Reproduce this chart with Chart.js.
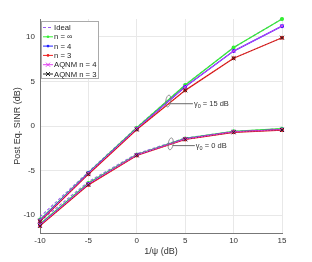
<!DOCTYPE html>
<html>
<head>
<meta charset="utf-8">
<script src="https://cdn.jsdelivr.net/npm/chart.js@4.4.0/dist/chart.umd.min.js"></script>
<style>
  html, body { margin: 0; padding: 0; background: #fff; }
  #wrap { width: 312px; height: 262px; }
</style>
</head>
<body>
<div id="wrap"><canvas id="Grafica" width="312" height="262"></canvas></div>
<script>
// 1/psi en dB
const xVals = [-10, -5, 0, 5, 10, 15];
const yTicks = [-10, -5, 0, 5, 10];

// gamma0 = 15 dB
const ideal15 = [-10.2, -5.15, -0.15, 4.6, 8.8, 12.0];
const inf15   = [-10.5, -5.25, -0.2, 4.6, 8.8, 12.0];
const n4_15   = [-10.6, -5.3, -0.3, 4.4, 8.4, 11.2];
const n3_15   = [-10.7, -5.4, -0.4, 4.0, 7.6, 9.9];
const aq4_15  = [-10.6, -5.3, -0.3, 4.4, 8.4, 11.2];
const aq3_15  = [-10.7, -5.4, -0.4, 4.0, 7.6, 9.9];

// gamma0 = 0 dB
const ideal0 = [-10.7, -6.25, -3.1, -1.35, -0.6, -0.3];
const inf0   = [-11.0, -6.4, -3.2, -1.4, -0.6, -0.3];
const n4_0   = [-11.1, -6.5, -3.25, -1.45, -0.65, -0.4];
const n3_0   = [-11.2, -6.6, -3.3, -1.5, -0.7, -0.45];
const aq4_0  = [-11.1, -6.5, -3.25, -1.45, -0.65, -0.4];
const aq3_0  = [-11.2, -6.6, -3.3, -1.5, -0.7, -0.45];

function serie(a, b) {
    const pts = xVals.map((x, i) => ({x: x, y: a[i]}));
    pts.push({x: 15.5, y: null});
    return pts.concat(xVals.map((x, i) => ({x: x, y: b[i]})));
}

const fuente = "'Liberation Sans', Arial, sans-serif";

const datasets = [
    {label: 'Ideal', data: serie(ideal15, ideal0), borderColor: '#9a5cf0', borderDash: [3, 2], borderWidth: 1.1, pointRadius: 0},
    {label: 'n = \u221e', data: serie(inf15, inf0), borderColor: '#33ee33', backgroundColor: '#33ee33', borderWidth: 1.3, pointRadius: 1.4, pointStyle: 'circle'},
    {label: 'n = 4', data: serie(n4_15, n4_0), borderColor: '#2020ff', backgroundColor: '#2020ff', borderWidth: 1.2, pointRadius: 1.4, pointStyle: 'circle'},
    {label: 'n = 3', data: serie(n3_15, n3_0), borderColor: '#ee2020', backgroundColor: '#ee2020', borderWidth: 1.3, pointRadius: 1.4, pointStyle: 'circle'},
    {label: 'AQNM n = 4', data: serie(aq4_15, aq4_0), borderColor: '#e040f0', backgroundColor: '#e040f0', borderWidth: 0.9, pointRadius: 2.8, pointStyle: 'crossRot', pointBorderWidth: 1},
    {label: 'AQNM n = 3', data: serie(aq3_15, aq3_0), borderColor: '#222', backgroundColor: '#222', borderWidth: 0.5, borderDash: [1, 2], pointRadius: 2.8, pointStyle: 'crossRot', pointBorderWidth: 1}
];
// las series posteriores quedan encima, como en el original
datasets.forEach((d, i) => { d.fill = false; d.tension = 0; d.clip = false; d.spanGaps = false; d.order = datasets.length - i; });

// leyenda y anotaciones dibujadas a mano
const extras = {
    id: 'extras',
    afterDatasetsDraw(chart) {
        const ctx = chart.ctx;
        const sx = chart.scales.x, sy = chart.scales.y;
        ctx.save();
        // anotaciones
        const notas = [
            {x: 3.25, y: 2.8, tx: 5.9, ty: 2.5, t: ' = 15 dB'},
            {x: 3.5, y: -2.0, tx: 6.1, ty: -2.2, t: ' = 0 dB'}
        ];
        notas.forEach(n => {
            const px = sx.getPixelForValue(n.x), py = sy.getPixelForValue(n.y);
            const tx = sx.getPixelForValue(n.tx), ty = sy.getPixelForValue(n.ty);
            ctx.strokeStyle = '#777';
            ctx.lineWidth = 0.8;
            ctx.beginPath();
            ctx.ellipse(px, py, 2.5, 6, 0.15, 0, Math.PI * 2);
            ctx.stroke();
            ctx.strokeStyle = '#444';
            ctx.beginPath();
            ctx.moveTo(px + 2, ty);
            ctx.lineTo(tx - 1, ty);
            ctx.stroke();
            ctx.fillStyle = '#333';
            ctx.textBaseline = 'middle';
            ctx.textAlign = 'left';
            ctx.font = '7.5px ' + fuente;
            ctx.fillText('\u03b3', tx, ty);
            let w = ctx.measureText('\u03b3').width;
            ctx.font = '5.5px ' + fuente;
            ctx.fillText('0', tx + w, ty + 2.5);
            w += ctx.measureText('0').width;
            ctx.font = '7.5px ' + fuente;
            ctx.fillText(n.t, tx + w, ty);
        });
        // leyenda
        const lx = 41, ly = 21, lw = 57, lh = 57;
        ctx.fillStyle = '#fff';
        ctx.fillRect(lx, ly, lw, lh);
        ctx.strokeStyle = '#aaa';
        ctx.lineWidth = 1;
        ctx.strokeRect(lx + 0.5, ly + 0.5, lw, lh);
        chart.data.datasets.forEach((d, i) => {
            const yy = ly + 6.5 + i * 9.3;
            ctx.strokeStyle = d.borderColor;
            ctx.lineWidth = 1;
            ctx.setLineDash(d.label === 'Ideal' ? [3, 2] : []);
            ctx.beginPath();
            ctx.moveTo(43, yy);
            ctx.lineTo(53, yy);
            ctx.stroke();
            ctx.setLineDash([]);
            if (d.pointStyle === 'circle') {
                ctx.fillStyle = d.borderColor;
                ctx.beginPath();
                ctx.arc(48, yy, 1.3, 0, Math.PI * 2);
                ctx.fill();
            } else if (d.pointStyle === 'crossRot') {
                ctx.beginPath();
                ctx.moveTo(46, yy - 2); ctx.lineTo(50, yy + 2);
                ctx.moveTo(50, yy - 2); ctx.lineTo(46, yy + 2);
                ctx.stroke();
            }
            ctx.fillStyle = '#222';
            ctx.font = '7.7px ' + fuente;
            ctx.textBaseline = 'middle';
            ctx.fillText(d.label, 54, yy + 0.5);
        });
        ctx.restore();
    }
};

const ctx = document.getElementById('Grafica').getContext('2d');
const grafica = new Chart(ctx, {
    type: 'line',
    data: {datasets: datasets},
    options: {
        responsive: false,
        animation: false,
        devicePixelRatio: 1,
        layout: {padding: {left: 0, right: 30, top: 19, bottom: 0}},
        plugins: {legend: {display: false}, tooltip: {enabled: false}},
        scales: {
            x: {
                type: 'linear',
                min: -10, max: 15,
                afterFit: s => { s.height = 29; },
                ticks: {stepSize: 5, padding: 3, color: '#333', font: {family: fuente, size: 8}},
                grid: {color: '#e8e8e8', drawTicks: false},
                border: {color: '#777'},
                title: {display: true, text: '1/\u03c8 (dB)', color: '#333', font: {family: fuente, size: 9}, padding: {top: 5, bottom: 5}}
            },
            y: {
                type: 'linear',
                min: -12, max: 12,
                afterFit: s => { s.width = 40; },
                afterBuildTicks: s => { s.ticks = yTicks.map(v => ({value: v})); },
                ticks: {padding: 5, color: '#333', font: {family: fuente, size: 8}},
                grid: {color: '#e8e8e8', drawTicks: false},
                border: {color: '#777'},
                title: {display: true, text: 'Post Eq. SINR (dB)', color: '#333', font: {family: fuente, size: 9}, padding: {top: 12, bottom: 12}}
            }
        }
    },
    plugins: [extras]
});
</script>
</body>
</html>
